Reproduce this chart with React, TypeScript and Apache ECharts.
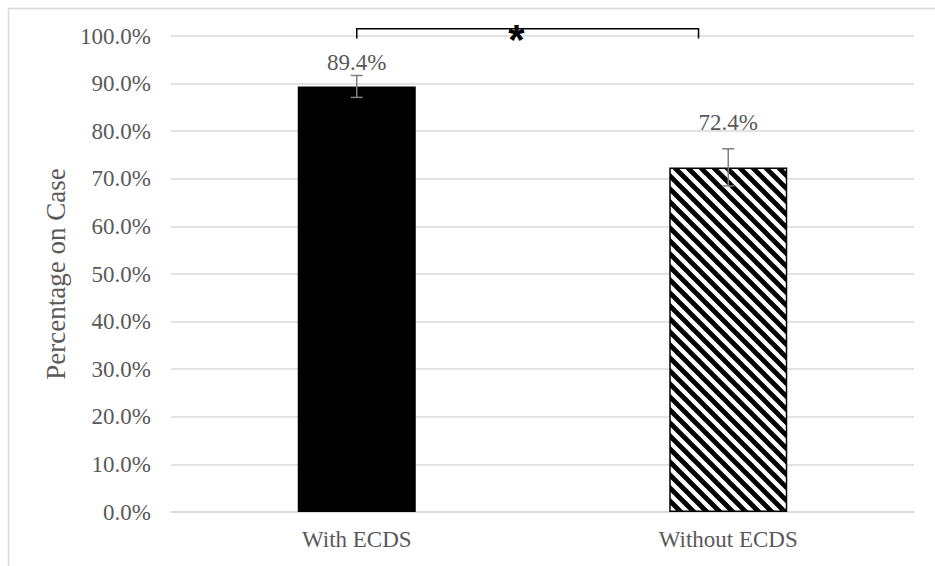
import React, { useEffect, useRef } from "react";
import * as echarts from "echarts";

const categories = ["With ECDS", "Without ECDS"];
const values = [89.4, 72.4];
const errors = [2.3, 3.9];
const labelDistances = [12, 33];
const yTicks = [0, 10, 20, 30, 40, 50, 60, 70, 80, 90, 100];
// significance bracket: [startFrac, endFrac, topValue, tickBottomValue, starFrac, starValue]
// fractions are positions between category 0 (0) and category 1 (1)
const bracket = [[0, 0.92, 101.5, 99.5, 0.43, 99.3]];

function makeHatch(): HTMLCanvasElement {
  const s = 13;
  const c = document.createElement("canvas");
  c.width = s;
  c.height = s;
  const ctx = c.getContext("2d")!;
  ctx.fillStyle = "#ffffff";
  ctx.fillRect(0, 0, s, s);
  ctx.strokeStyle = "#000000";
  ctx.lineWidth = 4.8;
  for (let k = -1; k <= 1; k++) {
    ctx.beginPath();
    ctx.moveTo(k * s - s, -s);
    ctx.lineTo(k * s + 2 * s, 2 * s);
    ctx.stroke();
  }
  return c;
}

export default function App() {
  const ref = useRef<HTMLDivElement>(null);
  useEffect(() => {
    if (!ref.current) return;
    const chart = echarts.init(ref.current, undefined, { renderer: "svg" });
    const hatch = makeHatch();
    const font = "'Liberation Serif', 'Times New Roman', serif";
    chart.setOption({
      animation: false,
      backgroundColor: "#ffffff",
      graphic: [
        {
          type: "rect",
          shape: { x: 8.5, y: 8.5, width: 960, height: 600 },
          style: { fill: "none", stroke: "#d9d9d9", lineWidth: 1.5 },
          z: -1,
        },
      ],
      grid: { left: 171, right: 21, top: 36, bottom: 54 },
      xAxis: {
        type: "category",
        data: categories,
        axisLine: { show: true, lineStyle: { color: "#d9d9d9", width: 1.5 } },
        axisTick: { show: false },
        axisLabel: { color: "#595959", fontSize: 23, fontFamily: font, margin: 16 },
      },
      yAxis: {
        type: "value",
        min: 0,
        max: 100,
        interval: 10,
        name: "Percentage on Case",
        nameLocation: "middle",
        nameRotate: 90,
        nameGap: 100,
        nameTextStyle: { color: "#595959", fontSize: 27, fontFamily: font },
        axisLine: { show: false },
        axisTick: { show: false },
        axisLabel: {
          color: "#595959",
          fontSize: 23,
          fontFamily: font,
          margin: 20,
          formatter: (v: number) => (yTicks.includes(v) ? v.toFixed(1) + "%" : ""),
        },
        splitLine: { lineStyle: { color: "#d9d9d9", width: 1.5 } },
      },
      series: [
        {
          type: "bar",
          barWidth: 118,
          data: values.map((v, i) => ({
            value: v,
            itemStyle:
              i === 0
                ? { color: "#000000" }
                : { color: { image: hatch, repeat: "repeat" }, borderColor: "#000000", borderWidth: 1.5 },
            label: {
              show: true,
              position: "top",
              distance: labelDistances[i],
              formatter: (p: any) => p.value.toFixed(1) + "%",
              color: "#595959",
              fontSize: 23,
              fontFamily: font,
            },
          })),
        },
        {
          type: "custom",
          clip: false,
          data: values.map((v, i) => [i, v, errors[i]]),
          renderItem: (params: any, api: any) => {
            const x = api.value(0);
            const v = api.value(1);
            const e = api.value(2);
            const top = api.coord([x, v + e]);
            const bot = api.coord([x, v - e]);
            const hw = 6;
            const st = { stroke: "#7f7f7f", lineWidth: 1.5 };
            return {
              type: "group",
              children: [
                { type: "line", shape: { x1: top[0], y1: top[1], x2: bot[0], y2: bot[1] }, style: st },
                { type: "line", shape: { x1: top[0] - hw, y1: top[1], x2: top[0] + hw, y2: top[1] }, style: st },
                { type: "line", shape: { x1: bot[0] - hw, y1: bot[1], x2: bot[0] + hw, y2: bot[1] }, style: st },
              ],
            };
          },
          z: 5,
        },
        {
          type: "custom",
          clip: false,
          data: bracket,
          renderItem: (params: any, api: any) => {
            const c0 = api.coord([0, 0])[0];
            const c1 = api.coord([1, 0])[0];
            const px = (f: number) => c0 + f * (c1 - c0);
            const py = (v: number) => api.coord([0, v])[1];
            const xa = px(api.value(0));
            const xb = px(api.value(1));
            const yt = py(api.value(2));
            const yb = py(api.value(3));
            const sx = px(api.value(4));
            const sy = py(api.value(5));
            const st = { stroke: "#000000", lineWidth: 1.5, fill: "none" };
            return {
              type: "group",
              children: [
                {
                  type: "polyline",
                  shape: { points: [[xa, yb], [xa, yt], [xb, yt], [xb, yb]] },
                  style: st,
                },
                {
                  type: "text",
                  x: sx,
                  y: sy,
                  style: {
                    text: "*",
                    fill: "#000000",
                    font: "bold 42px 'Liberation Sans', Arial, sans-serif",
                    align: "center",
                    verticalAlign: "middle",
                  },
                },
              ],
            };
          },
          z: 6,
        },
      ],
    });
    return () => chart.dispose();
  }, []);
  return (
    <div
      ref={ref}
      style={{ position: "fixed", left: 0, top: 0, width: 935, height: 566 }}
    />
  );
}
